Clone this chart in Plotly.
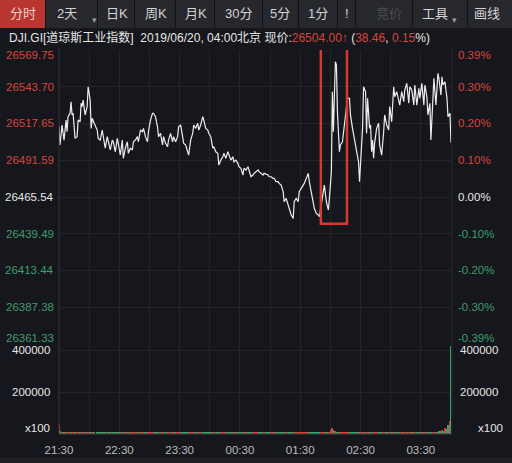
import plotly.graph_objects as go

W, H = 512, 463
FONT = "Liberation Sans, Noto Sans CJK SC, sans-serif"

# ---------------- data ----------------
base_price = 26465.54          # previous close (0.00%)
last_price = 26504.00
change_pts = 38.46
change_pct = 0.15

# minutes after 21:30
minutes = [
    0, 1, 3, 5, 7, 8, 9, 11, 12, 13,
    14, 16, 18, 19, 21, 22, 23, 24, 26, 28,
    29, 31, 32, 33, 35, 38, 39, 41, 43, 44,
    46, 48, 49, 51, 53, 54, 56, 58, 59, 61,
    63, 64, 66, 68, 69, 71, 73, 74, 76, 78,
    79, 81, 83, 84, 86, 88, 89, 91, 93, 94,
    96, 98, 99, 101, 103, 104, 106, 108, 109, 111,
    113, 114, 116, 118, 119, 121, 123, 124, 126, 128,
    129, 131, 133, 134, 136, 138, 139, 141, 143, 144,
    146, 148, 149, 151, 153, 154, 156, 158, 159, 161,
    163, 164, 166, 168, 169, 171, 173, 174, 176, 178,
    179, 181, 183, 184, 186, 188, 189, 191, 193, 194,
    196, 198, 199, 201, 203, 204, 206, 208, 209, 211,
    213, 214, 216, 218, 219, 221, 223, 224, 226, 228,
    229, 231, 233, 234, 236, 238, 239, 241, 243, 244,
    246, 248, 249, 251, 253, 254, 256, 258, 259, 261,
    263, 264, 266, 268, 269, 271, 272, 273, 274, 275,
    276, 277, 279, 280, 282, 284, 285, 287, 289, 290,
    292, 294, 296, 298, 299, 300, 302, 303, 305, 306,
    307, 309, 310, 311, 312, 313, 314, 316, 318, 319,
    321, 323, 324, 326, 328, 329, 331, 333, 334, 336,
    338, 339, 341, 343, 344, 346, 348, 349, 351, 353,
    354, 356, 358, 359, 361, 363, 364, 366, 367, 369,
    370, 372, 373, 375, 377, 378, 380, 381, 382, 384,
    386, 387, 389, 390,
]

prices = [
    26515.3, 26502.4, 26516.6, 26505.9, 26520.1, 26511.8, 26522.5, 26524.9, 26533.1, 26523.7,
    26524.9, 26507.1, 26508.3, 26520.1, 26518.9, 26532.0, 26529.6, 26534.3, 26523.7, 26529.6,
    26543.7, 26534.3, 26514.2, 26521.3, 26517.8, 26513.0, 26507.1, 26505.9, 26513.0, 26508.3,
    26500.1, 26508.3, 26504.7, 26498.9, 26505.9, 26504.7, 26497.6, 26507.1, 26503.6, 26495.3,
    26505.9, 26493.0, 26500.1, 26504.7, 26496.5, 26500.1, 26498.9, 26504.7, 26505.9, 26508.3,
    26504.7, 26513.0, 26511.8, 26514.2, 26508.3, 26504.7, 26511.8, 26520.1, 26524.9, 26524.9,
    26522.5, 26515.3, 26508.3, 26510.7, 26502.4, 26508.3, 26503.6, 26501.2, 26505.9, 26510.7,
    26504.7, 26508.3, 26504.7, 26508.3, 26515.3, 26516.6, 26508.3, 26503.6, 26502.4, 26496.5,
    26495.3, 26505.9, 26510.7, 26516.6, 26514.2, 26517.8, 26513.0, 26516.6, 26522.5, 26520.1,
    26514.2, 26513.0, 26510.7, 26508.3, 26500.1, 26501.2, 26497.6, 26496.5, 26488.2, 26491.7,
    26494.1, 26496.5, 26493.0, 26497.6, 26495.3, 26491.7, 26494.1, 26490.5, 26491.7, 26489.4,
    26487.0, 26485.9, 26481.1, 26485.9, 26484.7, 26487.0, 26484.7, 26479.9, 26481.1, 26482.3,
    26483.5, 26484.7, 26483.5, 26482.3, 26481.1, 26482.3, 26481.8, 26481.1, 26479.9, 26479.9,
    26478.8, 26478.8, 26476.4, 26476.4, 26475.2, 26474.0, 26469.3, 26462.2, 26464.6, 26459.9,
    26457.5, 26452.8, 26450.4, 26462.2, 26464.6, 26462.2, 26469.3, 26471.7, 26474.0, 26475.2,
    26478.8, 26482.3, 26476.4, 26469.3, 26462.2, 26457.5, 26453.9, 26452.8, 26451.5, 26459.9,
    26469.3, 26474.0, 26462.2, 26456.3, 26464.6, 26483.5, 26540.2, 26511.8, 26537.8, 26561.4,
    26559.1, 26526.0, 26497.6, 26502.4, 26504.7, 26516.6, 26523.7, 26535.5, 26535.5, 26523.7,
    26514.2, 26507.1, 26497.6, 26490.5, 26476.4, 26493.0, 26514.2, 26543.7, 26540.2, 26510.7,
    26535.5, 26514.2, 26516.6, 26497.6, 26505.9, 26493.0, 26503.6, 26514.2, 26517.8, 26502.4,
    26495.3, 26511.8, 26523.7, 26516.6, 26513.0, 26529.6, 26518.9, 26543.7, 26536.6, 26540.2,
    26534.3, 26530.7, 26540.2, 26533.1, 26541.4, 26546.1, 26532.0, 26543.7, 26541.4, 26530.7,
    26544.9, 26530.7, 26542.6, 26535.5, 26546.1, 26530.7, 26544.9, 26536.6, 26523.7, 26532.0,
    26505.9, 26530.7, 26549.7, 26530.7, 26553.2, 26549.7, 26537.8, 26550.8, 26544.9, 26547.2,
    26535.5, 26522.5, 26524.9, 26504.0,
]

# volume (x100), one bar per sampled minute above
volumes = [
    47000, 12000, 10000, 9000, 8000, 7000, 7000, 6000, 6000, 6000,
    5000, 6000, 5000, 5000, 6000, 5000, 5000, 6000, 5000, 5000,
    6000, 5000, 5000, 5000, 6000, 5000, 5000, 5000, 6000, 5000,
    5000, 5000, 6000, 5000, 5000, 5000, 5000, 6000, 5000, 5000,
    5000, 5000, 5000, 6000, 5000, 5000, 5000, 5000, 5000, 5000,
    5000, 5000, 6000, 5000, 5000, 5000, 5000, 5000, 6000, 5000,
    5000, 5000, 5000, 5000, 5000, 6000, 5000, 5000, 5000, 5000,
    5000, 5000, 5000, 5000, 6000, 5000, 5000, 5000, 5000, 5000,
    5000, 5000, 5000, 6000, 5000, 5000, 5000, 5000, 5000, 5000,
    5000, 5000, 5000, 5000, 6000, 5000, 5000, 5000, 5000, 5000,
    5000, 5000, 5000, 5000, 5000, 6000, 5000, 5000, 5000, 5000,
    5000, 5000, 6000, 5000, 5000, 5000, 5000, 5000, 5000, 5000,
    5000, 5000, 5000, 5000, 5000, 5000, 6000, 5000, 5000, 5000,
    5000, 5000, 5000, 5000, 5000, 5000, 6000, 5000, 5000, 5000,
    5000, 6000, 5000, 5000, 5000, 5000, 5000, 6000, 5000, 5000,
    5000, 5000, 5000, 6000, 5000, 5000, 5000, 5000, 6000, 5000,
    5000, 5000, 6000, 8000, 10000, 18000, 28000, 20000, 14000, 12000,
    10000, 9000, 8000, 7000, 6000, 6000, 5000, 6000, 5000, 5000,
    5000, 5000, 6000, 5000, 8000, 6000, 5000, 7000, 5000, 5000,
    6000, 5000, 5000, 6000, 5000, 5000, 5000, 6000, 5000, 5000,
    5000, 6000, 5000, 5000, 5000, 6000, 5000, 5000, 6000, 5000,
    5000, 5000, 6000, 5000, 5000, 5000, 6000, 5000, 5000, 5000,
    6000, 5000, 5000, 5000, 6000, 5000, 5000, 6000, 5000, 5000,
    6000, 7000, 8000, 8000, 10000, 12000, 15000, 20000, 16000, 28000,
    22000, 43000, 60000, 420000,
]

price_ticks = [26569.75, 26543.70, 26517.65, 26491.59, 26465.54,
               26439.49, 26413.44, 26387.38, 26361.33]
pct_labels = ["0.39%", "0.30%", "0.20%", "0.10%", "0.00%",
              "-0.10%", "-0.20%", "-0.30%", "-0.39%"]
time_ticks = [0, 60, 120, 180, 240, 300, 360]
time_labels = ["21:30", "22:30", "23:30", "00:30", "01:30", "02:30", "03:30"]
vol_ticks = [400000, 200000]
vol_labels = ["400000", "200000"]
buttons = ["分时", "2天", "日K", "周K", "月K", "30分", "5分", "1分", "!", "竞价", "工具", "画线"]

# ---------------- style ----------------
BG = "#16171c"
RED = "#d8443d"
GREEN = "#3f9c6d"
WHITE = "#e6e6e6"
GRID = "#24252b"


def fx(x):
    return x / W


def fy(y):
    return 1 - y / H


up_col = "#d9403a"
dn_col = "#34a56f"
bar_colors = [up_col]
for i in range(1, len(prices)):
    bar_colors.append(up_col if prices[i] >= prices[i - 1] else dn_col)

fig = go.Figure()
fig.add_trace(go.Scatter(
    x=minutes, y=prices, mode="lines",
    line=dict(color="#ededed", width=1.2),
    xaxis="x", yaxis="y", hoverinfo="skip", showlegend=False,
))
fig.add_trace(go.Bar(
    x=minutes, y=volumes, width=1.6, marker=dict(color=bar_colors, line=dict(width=0)),
    xaxis="x2", yaxis="y2", hoverinfo="skip", showlegend=False,
))

x_dom = [fx(59), fx(451)]
grid30 = list(range(0, 391, 30))

fig.update_layout(
    width=W, height=H, autosize=False,
    margin=dict(l=0, r=0, t=0, b=0, pad=0, autoexpand=False),
    paper_bgcolor=BG, plot_bgcolor=BG,
    font=dict(family=FONT, color=WHITE, size=12),
    bargap=0,
    xaxis=dict(domain=x_dom, range=[0, 390], tickvals=grid30, showticklabels=False,
               showgrid=True, gridcolor=GRID, gridwidth=1, zeroline=False, ticks="",
               automargin=False),
    yaxis=dict(domain=[fy(344), fy(50)], range=[price_ticks[-1], price_ticks[0]],
               tickvals=price_ticks, showticklabels=False, showgrid=True,
               gridcolor=GRID, gridwidth=1, zeroline=False, ticks="", automargin=False),
    xaxis2=dict(domain=x_dom, range=[0, 390], anchor="y2", matches="x",
                tickvals=time_ticks, ticktext=time_labels, showgrid=False,
                zeroline=False, ticks="", ticklabelstandoff=7, automargin=False,
                tickfont=dict(family=FONT, size=11.5, color="#bdbdbd"),
                minor=dict(tickvals=grid30, showgrid=True, gridcolor=GRID, ticks="")),
    yaxis2=dict(domain=[fy(434), fy(344)], range=[0, 428600], anchor="x2",
                tickvals=vol_ticks, showticklabels=False, showgrid=True,
                gridcolor=GRID, zeroline=False, ticks="", automargin=False),
)

shapes = []
annotations = []

# toolbar
shapes.append(dict(type="rect", xref="paper", yref="paper", x0=0, x1=1,
                   y0=fy(28), y1=1, fillcolor="#121317", line=dict(width=0), layer="below"))
edges = [(0, 45), (46, 97), (98, 134), (135, 175), (176, 214), (215, 262),
         (263, 298), (299, 337), (338, 355), (356, 412), (413, 467), (468, 512)]
text_x = [23, 67, 117, 156, 196, 238, 280, 318, 347, 389, 435, 487]
for i, (lab, (a, b)) in enumerate(zip(buttons, edges)):
    fill = "#b8362f" if i == 0 else "#27282d"
    shapes.append(dict(type="rect", xref="paper", yref="paper", x0=fx(a), x1=fx(b),
                       y0=fy(28), y1=fy(0), fillcolor=fill, line=dict(width=0), layer="below"))
    col = "#4d4e53" if lab == "竞价" else ("#f0d0cc" if i == 0 else "#d4d4d4")
    annotations.append(dict(xref="paper", yref="paper", x=fx(text_x[i]), y=fy(14),
                            text=lab, showarrow=False, xanchor="center", yanchor="middle",
                            font=dict(family=FONT, size=13, color=col)))
for xx in (90, 459):
    annotations.append(dict(xref="paper", yref="paper", x=fx(xx), y=fy(13), text="▾",
                            showarrow=False, font=dict(family=FONT, size=9, color="#9a9a9a")))

# info line
info = (f"DJI.GI[道琼斯工业指数]  2019/06/20, 04:00北京 现价:"
        f"<span style='color:{RED}'>{last_price:.2f}↑</span> ("
        f"<span style='color:{RED}'>{change_pts:.2f}</span>, "
        f"<span style='color:{RED}'>{change_pct:.2f}</span>%)")
annotations.append(dict(xref="paper", yref="paper", x=fx(7), y=fy(37), text=info,
                        showarrow=False, xanchor="left", yanchor="middle",
                        font=dict(family=FONT, size=12, color=WHITE)))

# price / percent labels
n = len(price_ticks)
for i, (p, pl) in enumerate(zip(price_ticks, pct_labels)):
    if abs(p - base_price) < 0.005:
        col = WHITE
    elif p > base_price:
        col = RED
    else:
        col = GREEN
    shift = -5 if i == 0 else (6 if i == n - 1 else 0)
    annotations.append(dict(xref="paper", yref="y", x=fx(56), y=p, yshift=shift,
                            text=f"{p:.2f}", showarrow=False, xanchor="right",
                            yanchor="middle", font=dict(family=FONT, size=11.5, color=col)))
    annotations.append(dict(xref="paper", yref="y", x=fx(456), y=p, yshift=shift,
                            text=pl, showarrow=False, xanchor="left",
                            yanchor="middle", font=dict(family=FONT, size=11.5, color=col)))

# volume labels
for v, vl in zip(vol_ticks, vol_labels):
    for xx, anc in ((fx(52), "right"), (fx(458), "left")):
        annotations.append(dict(xref="paper", yref="y2", x=xx, y=v, text=vl,
                                showarrow=False, xanchor=anc, yanchor="middle",
                                font=dict(family=FONT, size=11.5, color=WHITE)))
for xx, anc in ((fx(52), "right"), (fx(476), "left")):
    annotations.append(dict(xref="paper", yref="y2", x=xx, y=0, yshift=6, text="x100",
                            showarrow=False, xanchor=anc, yanchor="middle",
                            font=dict(family=FONT, size=11.5, color=WHITE)))

# frame lines
shapes.append(dict(type="line", xref="paper", yref="paper", x0=fx(59), x1=fx(59),
                   y0=fy(434), y1=fy(48), line=dict(color="#33343a", width=1)))
shapes.append(dict(type="line", xref="paper", yref="paper", x0=fx(452), x1=fx(452),
                   y0=fy(434), y1=fy(48), line=dict(color="#26272d", width=1)))
shapes.append(dict(type="line", xref="paper", yref="paper", x0=fx(59), x1=fx(452),
                   y0=fy(434), y1=fy(434), line=dict(color="#3a3b40", width=1)))
# bottom strip
shapes.append(dict(type="rect", xref="paper", yref="paper", x0=0, x1=1, y0=0, y1=fy(458),
                   fillcolor="#1f2025", line=dict(width=0), layer="below"))

# red highlight box around the spike
shapes.append(dict(type="rect", xref="x", yref="y", x0=260.5, x1=286.5,
                   y0=26446.5, y1=26571.0, line=dict(color="#d8382f", width=2.5),
                   fillcolor="rgba(0,0,0,0)"))

fig.update_layout(shapes=shapes, annotations=annotations)
fig.write_html(
    "out.html",
    config={"responsive": False, "displayModeBar": False},
    post_script="document.body.style.margin='0';document.body.style.background='#16171c';",
)
